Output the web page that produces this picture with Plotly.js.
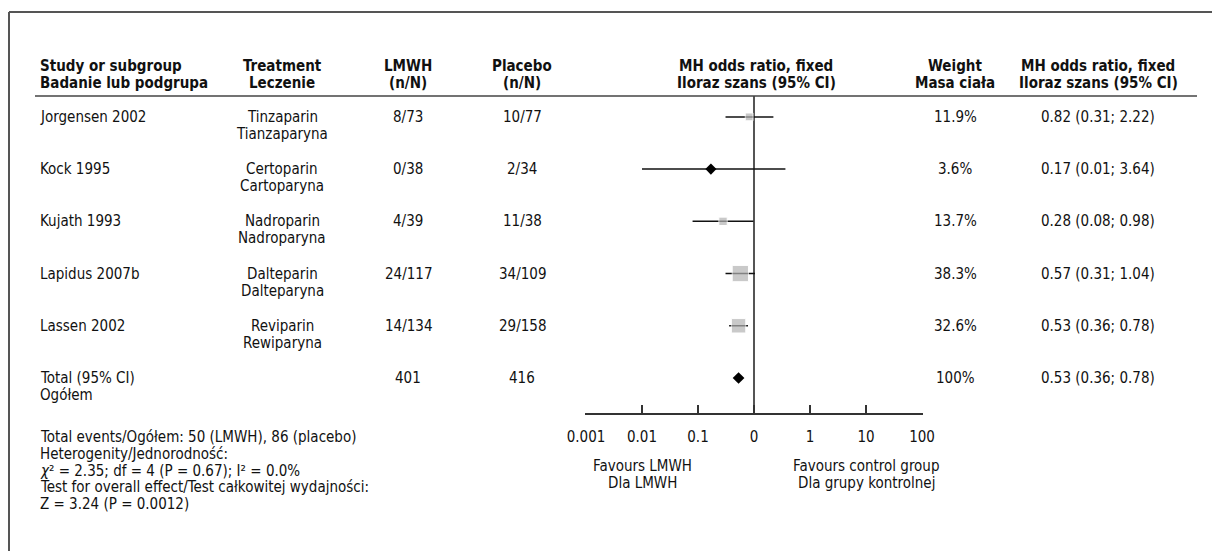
<!DOCTYPE html>
<html><head><meta charset="utf-8">
<script src="https://cdn.plot.ly/plotly-3.0.1.min.js"></script>
<style>html,body{margin:0;padding:0;background:#fff;}#chart{width:1212px;height:551px;}</style>
</head><body><div id="chart"></div>
<script>
// ---- data ----
const studies = ['Jorgensen 2002','Kock 1995','Kujath 1993','Lapidus 2007b','Lassen 2002'];
const treatmentEn = ['Tinzaparin','Certoparin','Nadroparin','Dalteparin','Reviparin'];
const treatmentPl = ['Tianzaparyna','Cartoparyna','Nadroparyna','Dalteparyna','Rewiparyna'];
const lmwhEvents = ['8/73','0/38','4/39','24/117','14/134'];
const placeboEvents = ['10/77','2/34','11/38','34/109','29/158'];
const weights = [11.9, 3.6, 13.7, 38.3, 32.6];
const oddsRatio = [0.82, 0.17, 0.28, 0.57, 0.53];
const ciLow = [0.31, 0.01, 0.08, 0.31, 0.36];
const ciHigh = [2.22, 3.64, 0.98, 1.04, 0.78];
const totalLabel = ['Total (95% CI)','Ogółem'];
const totalLmwh = '401';
const totalPlacebo = '416';
const totalWeight = '100%';
const totalOR = 0.53, totalLow = 0.36, totalHigh = 0.78;
const tickVals = [0.001, 0.01, 0.1, 1, 10, 100, 1000];
const tickLabels = ['0.001','0.01','0.1','0','1','10','100'];
const footer = [
  'Total events/Ogółem: 50 (LMWH), 86 (placebo)',
  'Heterogenity/Jednorodność:',
  '<i>χ</i>² = 2.35; df = 4 (P = 0.67); I² = 0.0%',
  'Test for overall effect/Test całkowitej wydajności:',
  'Z = 3.24 (P = 0.0012)'
];

// ---- layout helpers ----
const W = 1212, H = 551;
const FONT = '"DejaVu Sans Condensed", "Liberation Sans Narrow", "Arial Narrow", sans-serif';
const FS = 15;
const px = x => x / W, py = y => 1 - y / H;
const ROW0 = 117, ROWSTEP = 52.2, LINE2 = 17;
const rowY = i => ROW0 + ROWSTEP * i;
const fmt = v => v.toFixed(2);

const ann = [];
function txt(x, y, t, anchor, bold) {
  ann.push({xref:'paper', yref:'paper', x:px(x), y:py(y), text: bold ? '<b>'+t+'</b>' : t,
    showarrow:false, xanchor:anchor, yanchor:'middle', font:{family:FONT, size:FS, color:'#111'}});
}
// headers
const hdrY1 = 66, hdrY2 = 83;
txt(38, hdrY1, 'Study or subgroup', 'left', true); txt(38, hdrY2, 'Badanie lub podgrupa', 'left', true);
txt(282, hdrY1, 'Treatment', 'center', true); txt(282, hdrY2, 'Leczenie', 'center', true);
txt(408, hdrY1, 'LMWH', 'center', true); txt(408, hdrY2, '(n/N)', 'center', true);
txt(522, hdrY1, 'Placebo', 'center', true); txt(522, hdrY2, '(n/N)', 'center', true);
txt(756, hdrY1, 'MH odds ratio, fixed', 'center', true); txt(756, hdrY2, 'Iloraz szans (95% CI)', 'center', true);
txt(955, hdrY1, 'Weight', 'center', true); txt(955, hdrY2, 'Masa ciała', 'center', true);
txt(1098, hdrY1, 'MH odds ratio, fixed', 'center', true); txt(1098, hdrY2, 'Iloraz szans (95% CI)', 'center', true);

studies.forEach((s, i) => {
  const y = rowY(i);
  txt(38, y, s, 'left');
  txt(282, y, treatmentEn[i], 'center');
  txt(282, y + LINE2, treatmentPl[i], 'center');
  txt(408, y, lmwhEvents[i], 'center');
  txt(522, y, placeboEvents[i], 'center');
  txt(955, y, weights[i].toFixed(1) + '%', 'center');
  txt(1098, y, fmt(oddsRatio[i]) + ' (' + fmt(ciLow[i]) + '; ' + fmt(ciHigh[i]) + ')', 'center');
});
const ty = rowY(studies.length);
txt(38, ty, totalLabel[0], 'left'); txt(38, ty + LINE2, totalLabel[1], 'left');
txt(408, ty, totalLmwh, 'center'); txt(522, ty, totalPlacebo, 'center');
txt(955, ty, totalWeight, 'center');
txt(1098, ty, fmt(totalOR) + ' (' + fmt(totalLow) + '; ' + fmt(totalHigh) + ')', 'center');

footer.forEach((t, i) => txt(38, 437 + 16.8 * i, t, 'left'));
txt(642, 466, 'Favours LMWH', 'center'); txt(642, 483, 'Dla LMWH', 'center');
txt(866, 466, 'Favours control group', 'center'); txt(866, 483, 'Dla grupy kontrolnej', 'center');

// ---- traces ----
const rows = studies.map((_, i) => i);
const zeroEvent = lmwhEvents.map(e => e.startsWith('0/'));
const sqIdx = rows.filter(i => !zeroEvent[i]);
const dmIdx = rows.filter(i => zeroEvent[i]);
const yTop = -0.40, yBot = 5.67;

const traces = [
  {x:[1,1], y:[yTop, yBot], mode:'lines', line:{color:'#555', width:2}, hoverinfo:'skip', showlegend:false},
  {x: sqIdx.map(i => oddsRatio[i]), y: sqIdx, mode:'markers', type:'scatter', showlegend:false,
   marker:{symbol:'square', color:'#b3b3b3', size: sqIdx.map(i => 4 + weights[i] * 0.32)},
   error_x:{type:'data', symmetric:false, array: sqIdx.map(i => ciHigh[i] - oddsRatio[i]),
     arrayminus: sqIdx.map(i => oddsRatio[i] - ciLow[i]), width:0, thickness:1.5, color:'#111'}},
  {x: dmIdx.map(i => oddsRatio[i]), y: dmIdx, mode:'markers', type:'scatter', showlegend:false,
   marker:{symbol:'diamond', color:'#000', size:8.5},
   error_x:{type:'data', symmetric:false, array: dmIdx.map(i => ciHigh[i] - oddsRatio[i]),
     arrayminus: dmIdx.map(i => oddsRatio[i] - ciLow[i]), width:0, thickness:1.5, color:'#111'}},
  {x:[totalOR], y:[studies.length], mode:'markers', type:'scatter', showlegend:false,
   marker:{symbol:'diamond', color:'#000', size:9}}
];

const shapes = [
  {type:'line', xref:'paper', yref:'paper', x0:px(35), x1:px(1197), y0:py(96), y1:py(96), line:{color:'#444', width:1.5}},
  {type:'line', xref:'paper', yref:'paper', x0:px(9), x1:1, y0:py(12), y1:py(12), line:{color:'#555', width:2}},
  {type:'line', xref:'paper', yref:'paper', x0:px(9), x1:px(9), y0:py(12), y1:0, line:{color:'#555', width:2}}
];

const PAD = 0.015; // decades of padding so the end ticks are drawn
const decadePx = 56;
const layout = {
  width:W, height:H, margin:{l:0, r:0, t:0, b:0}, paper_bgcolor:'#fff', plot_bgcolor:'rgba(0,0,0,0)',
  showlegend:false,
  xaxis:{type:'log', range:[-3 - PAD, 3 + PAD], domain:[px(586 - PAD*decadePx), px(922 + PAD*decadePx)],
    tickvals:tickVals, ticktext:tickLabels,
    ticks:'inside', ticklen:8, tickwidth:1.5, tickcolor:'#333', showline:true, linecolor:'#333', linewidth:1.5,
    ticklabelstandoff:9,
    showgrid:false, zeroline:false, tickfont:{family:FONT, size:FS, color:'#111'}, anchor:'y', fixedrange:true},
  yaxis:{range:[yBot, yTop], domain:[py(413), py(96)], visible:false, fixedrange:true},
  annotations: ann, shapes: shapes
};
Plotly.newPlot('chart', traces, layout, {staticPlot:true});
</script></body></html>
